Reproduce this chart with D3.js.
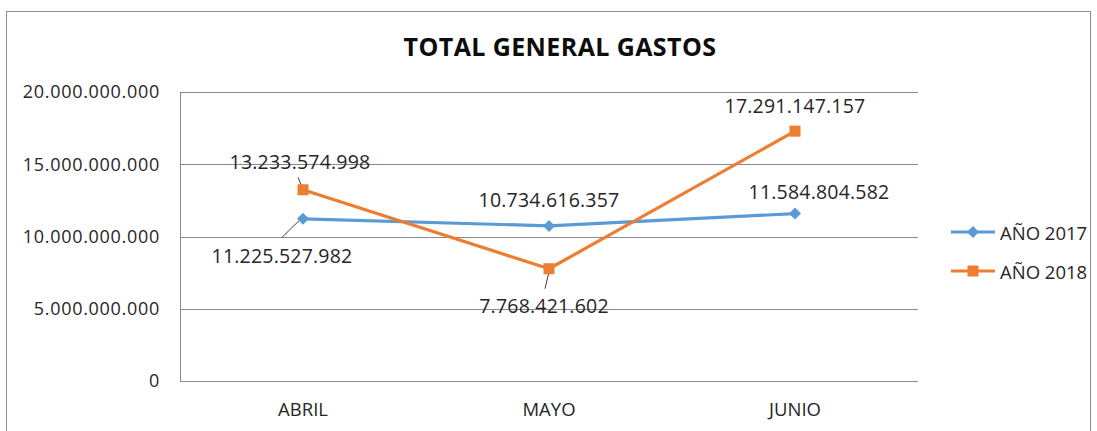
<!DOCTYPE html>
<html><head><meta charset="utf-8">
<script src="https://cdn.jsdelivr.net/npm/d3@7"></script>
<style>
body{margin:0;background:#fff;}
text{font-family:"Open Sans",sans-serif;fill:#262626;}
</style></head>
<body><svg id="c" width="1097" height="431"></svg>
<script>
const categories = ["ABRIL","MAYO","JUNIO"];
const series2017 = [11225527982, 10734616357, 11584804582];
const series2018 = [13233574998, 7768421602, 17291147157];
const seriesNames = ["AÑO 2017","AÑO 2018"];
const yTicks = [0, 5000000000, 10000000000, 15000000000, 20000000000];
const title = "TOTAL GENERAL GASTOS";

const colors = ["#5B9BD5","#ED7D31"];
const svg = d3.select("#c");
const plot = {l:180, t:92, r:918, b:381};

// outer frame
svg.append("rect").attr("x",6.5).attr("y",11.5).attr("width",1084).attr("height",440)
  .attr("fill","none").attr("stroke","#8c8c8c").attr("stroke-width",1);

svg.append("text").attr("x",560).attr("y",56).attr("text-anchor","middle")
  .style("font-size","25px").style("font-weight","bold").style("letter-spacing","0.4px").style("fill","#0d0d0d").text(title);

const x = d3.scaleBand().domain(categories).range([plot.l,plot.r]);
const y = d3.scaleLinear().domain([0,20000000000]).range([plot.b,plot.t]);
const fmt = v => d3.format(",")(v).replace(/,/g,".");

// gridlines
svg.append("g").selectAll("line").data(yTicks).join("line")
  .attr("x1",plot.l).attr("x2",plot.r)
  .attr("y1",d=>Math.round(y(d))+0.5).attr("y2",d=>Math.round(y(d))+0.5)
  .attr("stroke","#898989").attr("stroke-width",1);
svg.append("line").attr("x1",plot.l+0.5).attr("x2",plot.l+0.5).attr("y1",plot.t).attr("y2",plot.b+0.5)
  .attr("stroke","#898989");

// y tick labels
const yAxis = d3.axisLeft(y).tickValues(yTicks).tickFormat(fmt).tickSize(0).tickPadding(20);
const ga = svg.append("g").attr("transform",`translate(${plot.l},0)`).call(yAxis);
ga.select(".domain").remove();
ga.selectAll("text").style("font-size","18px").style("letter-spacing","0.7px").style("font-family","Open Sans").attr("fill","#262626");

// x labels
const xAxis = d3.axisBottom(x).tickSize(0).tickPadding(22);
const gx = svg.append("g").attr("transform",`translate(0,${plot.b})`).call(xAxis);
gx.select(".domain").remove();
gx.selectAll("text").style("font-size","18.5px").style("font-family","Open Sans").attr("fill","#262626");

const cx = d => x(d)+x.bandwidth()/2;
const line = d3.line().x(d=>cx(d.c)).y(d=>y(d.v));
const data = [series2017, series2018].map(s=>s.map((v,i)=>({c:categories[i],v})));
const diamond = "M0,-6L6,0L0,6L-6,0Z";

data.forEach((s,k)=>{
  svg.append("path").datum(s).attr("d",line).attr("fill","none").attr("stroke",colors[k]).attr("stroke-width",3.2).attr("stroke-linejoin","round");
});

const labelOff = [
  [[-21,37],[0,-26],[24,-22]],
  [[-3,-28],[-5,37],[0,-26]]
];
const leaders = [
  [[[-21,18.5],[-2,0]], null, null],
  [[[-5,-12.5],[0,0]], [[-4,20],[0,3]], null]
];
data.forEach((s,k)=>s.forEach((d,i)=>{
  const px=cx(d.c), py=y(d.v);
  const L = leaders[k][i];
  if(L){
    svg.append("line").attr("x1",px+L[0][0]).attr("y1",py+L[0][1]).attr("x2",px+L[1][0]).attr("y2",py+L[1][1])
      .attr("stroke","#404040").attr("stroke-width",1);
  }
}));

data[0].forEach(d=>{
  svg.append("path").attr("d",diamond).attr("transform",`translate(${cx(d.c)},${y(d.v)})`).attr("fill",colors[0]);
});
data[1].forEach(d=>{
  svg.append("rect").attr("x",cx(d.c)-5.5).attr("y",y(d.v)-5.5).attr("width",11).attr("height",11).attr("fill",colors[1]);
});

data.forEach((s,k)=>s.forEach((d,i)=>{
  const px=cx(d.c), py=y(d.v);
  const [dx,dy]=labelOff[k][i];
  svg.append("text").attr("x",px+dx).attr("y",py+dy).attr("text-anchor","middle")
    .attr("dominant-baseline","central")
    .style("font-size","19.5px").style("letter-spacing","0.2px").text(fmt(d.v));
}));

// legend
const lg = svg.append("g");
seriesNames.forEach((n,k)=>{
  const ly = 232 + k*39;
  lg.append("line").attr("x1",951).attr("x2",995).attr("y1",ly).attr("y2",ly).attr("stroke",colors[k]).attr("stroke-width",3.2);
  if(k===0) lg.append("path").attr("d",diamond).attr("transform",`translate(973,${ly})`).attr("fill",colors[k]);
  else lg.append("rect").attr("x",967.5).attr("y",ly-5.5).attr("width",11).attr("height",11).attr("fill",colors[k]);
  lg.append("text").attr("x",1000).attr("y",ly).attr("dominant-baseline","central").style("font-size","18.5px").text(n);
});
</script></body></html>
